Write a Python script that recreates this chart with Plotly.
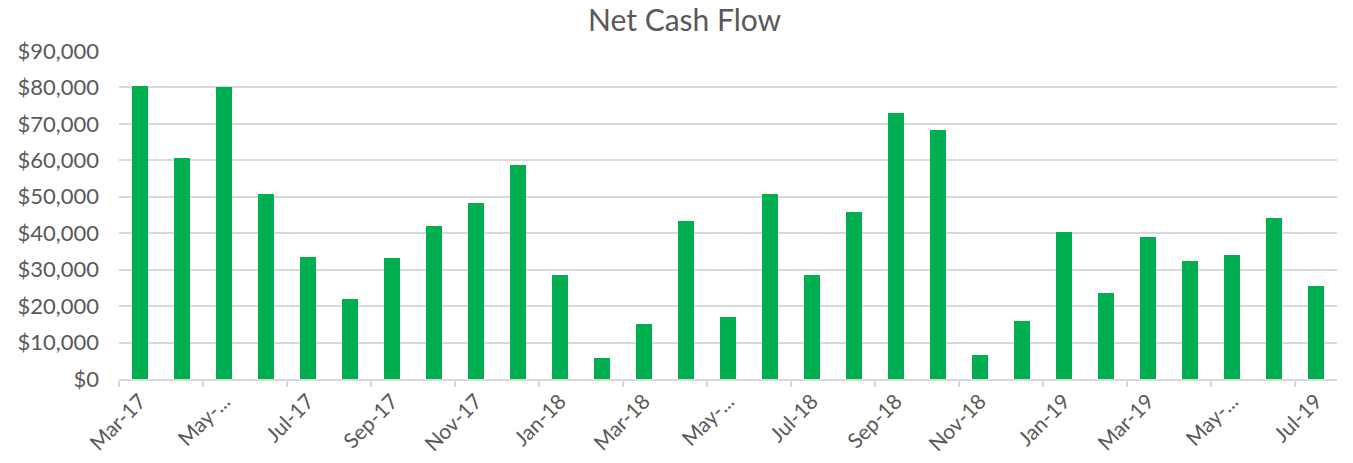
import plotly.graph_objects as go

months = ["Mar-17", "Apr-17", "May-17", "Jun-17", "Jul-17", "Aug-17", "Sep-17", "Oct-17",
          "Nov-17", "Dec-17", "Jan-18", "Feb-18", "Mar-18", "Apr-18", "May-18", "Jun-18",
          "Jul-18", "Aug-18", "Sep-18", "Oct-18", "Nov-18", "Dec-18", "Jan-19", "Feb-19",
          "Mar-19", "Apr-19", "May-19", "Jun-19", "Jul-19"]
net_cash_flow = [80400, 60700, 80100, 50900, 33600, 22000, 33300, 42100,
                 48400, 58600, 28600, 5900, 15000, 43400, 17100, 50900,
                 28600, 45900, 73100, 68400, 6500, 16000, 40200, 23700,
                 38900, 32300, 33900, 44100, 25500]
tick_labels = ["Mar-17", "May-...", "Jul-17", "Sep-17", "Nov-17", "Jan-18", "Mar-18",
               "May-...", "Jul-18", "Sep-18", "Nov-18", "Jan-19", "Mar-19", "May-...", "Jul-19"]
y_ticks = list(range(0, 90001, 10000))
y_tick_text = ["$" + format(v, ",") for v in y_ticks]

x_idx = list(range(len(months)))
label_pos = x_idx[::2]

FONT = "Lato"
TXT = "#595959"
GRID = "#d9d9d9"

fig = go.Figure(go.Bar(
    x=x_idx, y=net_cash_flow, width=0.4,
    marker=dict(color="#00B050", line=dict(width=0)),
    customdata=months,
    hovertemplate="%{customdata}: $%{y:,}<extra></extra>",
))

fig.update_layout(
    width=1353, height=463,
    margin=dict(l=119, r=16, t=51, b=84),
    paper_bgcolor="white", plot_bgcolor="white",
    showlegend=False,
    bargap=0,
    font=dict(family=FONT, color=TXT, size=21),
    title=dict(text="Net Cash Flow", x=0.506, xref="container", xanchor="center",
               y=0.955, yref="container", yanchor="middle",
               font=dict(family=FONT, size=30, color=TXT)),
    xaxis=dict(
        range=[-0.5, len(months) - 0.5],
        tickmode="array", tickvals=label_pos, ticktext=tick_labels,
        tickangle=-45, ticks="", showgrid=False, zeroline=False,
        showline=True, linecolor=GRID, linewidth=1.5,
        tickfont=dict(family=FONT, size=21, color=TXT),
        minor=dict(tickmode="linear", tick0=-0.5, dtick=2, ticks="outside",
                   ticklen=6, tickcolor=GRID, tickwidth=1.5, showgrid=False),
        automargin=False, fixedrange=True,
    ),
    yaxis=dict(
        range=[0, 90000], tickmode="array", tickvals=y_ticks, ticktext=y_tick_text,
        showgrid=True, gridcolor=GRID, gridwidth=1.5, zeroline=False,
        showline=False, ticks="", ticklabelstandoff=19,
        tickfont=dict(family=FONT, size=22, color=TXT),
        automargin=False, fixedrange=True,
    ),
)

fig.write_html("out.html", config={"displayModeBar": False},
               post_script="document.body.style.margin='0';")
